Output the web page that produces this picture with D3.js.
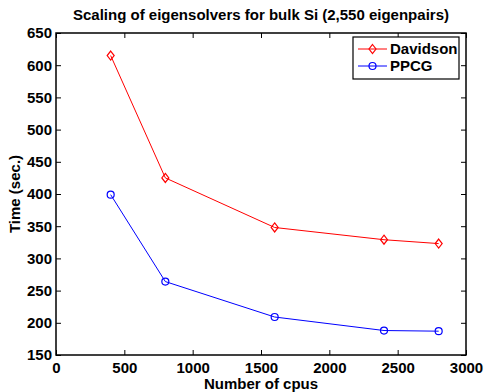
<!DOCTYPE html>
<html>
<head>
<meta charset="utf-8">
<script src="https://cdn.jsdelivr.net/npm/d3@7"></script>
<style>
  body { margin: 0; background: #fff; }
  text { font-family: "Liberation Sans", Arial, sans-serif; font-weight: bold; }
</style>
</head>
<body>
<svg id="chart" width="485" height="392"></svg>
<script>
// data
var cpus = [400, 800, 1600, 2400, 2800];
var davidson = [615, 425, 348, 329, 323];
var ppcg = [399, 264, 209, 188, 187];
var xTicks = [0, 500, 1000, 1500, 2000, 2500, 3000];
var yTicks = [150, 200, 250, 300, 350, 400, 450, 500, 550, 600, 650];

var margin = {left: 56, right: 19, top: 33, bottom: 37};
var W = 485, H = 392;
var svg = d3.select('#chart');

var x = d3.scaleLinear().domain([0, 3000]).range([margin.left, W - margin.right]);
var y = d3.scaleLinear().domain([150, 650]).range([H - margin.bottom, margin.top]);

var g = svg.append('g');

// inward ticks on all four sides, MATLAB style
function axisStyle(sel) {
  sel.select('.domain').remove();
  sel.selectAll('line').attr('stroke', '#000').attr('stroke-width', 1);
  sel.selectAll('text').attr('fill', '#000').style('font-size', '15px');
}
g.append('g').attr('transform', 'translate(0,' + y(150) + ')')
  .call(d3.axisBottom(x).tickValues(xTicks).tickFormat(d3.format('d')).tickSize(-5).tickPadding(7))
  .call(axisStyle);
g.append('g').attr('transform', 'translate(' + x(0) + ',0)')
  .call(d3.axisLeft(y).tickValues(yTicks).tickFormat(d3.format('d')).tickSize(-5).tickPadding(4))
  .call(axisStyle);
g.append('g').attr('transform', 'translate(0,' + y(650) + ')')
  .call(d3.axisTop(x).tickValues(xTicks).tickSize(-5).tickFormat(''))
  .call(axisStyle);
g.append('g').attr('transform', 'translate(' + x(3000) + ',0)')
  .call(d3.axisRight(y).tickValues(yTicks).tickSize(-5).tickFormat(''))
  .call(axisStyle);

// box
g.append('rect')
  .attr('x', x(0)).attr('y', y(650))
  .attr('width', x(3000) - x(0)).attr('height', y(150) - y(650))
  .attr('fill', 'none').attr('stroke', '#000').attr('stroke-width', 1.5);

var line = d3.line().x(function(d) { return x(d[0]); }).y(function(d) { return y(d[1]); });

function diamond(sel, cx, cy, color) {
  sel.append('path')
    .attr('d', 'M' + cx + ',' + (cy - 4.5) + 'L' + (cx + 3.5) + ',' + cy + 'L' + cx + ',' + (cy + 4.5) + 'L' + (cx - 3.5) + ',' + cy + 'Z')
    .attr('fill', 'none').attr('stroke', color).attr('stroke-width', 1.2);
}
function circle(sel, cx, cy, color) {
  sel.append('circle').attr('cx', cx).attr('cy', cy).attr('r', 3.5)
    .attr('fill', 'none').attr('stroke', color).attr('stroke-width', 1.2);
}

var series = [
  {name: 'Davidson', vals: davidson, color: '#ff0000', marker: diamond},
  {name: 'PPCG', vals: ppcg, color: '#0000ff', marker: circle}
];

series.forEach(function(s) {
  var pts = cpus.map(function(c, i) { return [c, s.vals[i]]; });
  g.append('path').datum(pts).attr('d', line)
    .attr('fill', 'none').attr('stroke', s.color).attr('stroke-width', 1);
  pts.forEach(function(p) { s.marker(g, x(p[0]), y(p[1]), s.color); });
});

// legend
var lg = g.append('g');
lg.append('rect').attr('x', 353).attr('y', 37).attr('width', 106).attr('height', 42)
  .attr('fill', '#fff').attr('stroke', '#000').attr('stroke-width', 1.2);
series.forEach(function(s, i) {
  var ly = 49 + i * 17;
  lg.append('line').attr('x1', 358).attr('x2', 387).attr('y1', ly).attr('y2', ly)
    .attr('stroke', s.color).attr('stroke-width', 1);
  s.marker(lg, 372.5, ly, s.color);
  lg.append('text').attr('x', 390).attr('y', ly + 5).style('font-size', '15px').text(s.name);
});

// titles
svg.append('text').attr('x', (x(0) + x(3000)) / 2).attr('y', 20)
  .attr('text-anchor', 'middle').style('font-size', '15px')
  .text('Scaling of eigensolvers for bulk Si (2,550 eigenpairs)');
svg.append('text').attr('x', (x(0) + x(3000)) / 2).attr('y', 389)
  .attr('text-anchor', 'middle').style('font-size', '15px')
  .text('Number of cpus');
svg.append('text').attr('transform', 'translate(20,' + ((y(150) + y(650)) / 2) + ') rotate(-90)')
  .attr('text-anchor', 'middle').style('font-size', '15px')
  .text('Time (sec.)');
</script>
</body>
</html>
